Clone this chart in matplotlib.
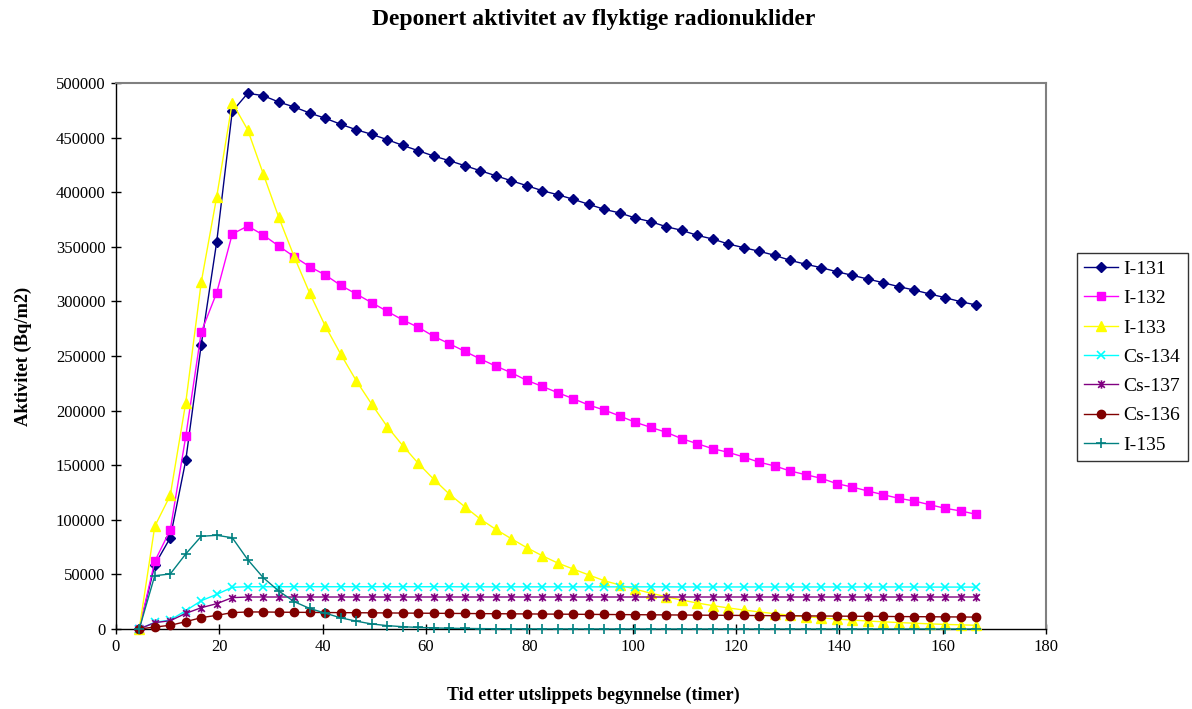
import matplotlib
matplotlib.use("Agg")
import matplotlib.pyplot as plt
from matplotlib.path import Path

# Sampling times (hours after release start)
hours = [4.5, 7.5, 10.5, 13.5, 16.5, 19.5, 22.5, 25.5, 28.5, 31.5, 34.5,
         37.5, 40.5, 43.5, 46.5, 49.5, 52.5, 55.5, 58.5, 61.5, 64.5, 67.5,
         70.5, 73.5, 76.5, 79.5, 82.5, 85.5, 88.5, 91.5, 94.5, 97.5, 100.5,
         103.5, 106.5, 109.5, 112.5, 115.5, 118.5, 121.5, 124.5, 127.5, 130.5,
         133.5, 136.5, 139.5, 142.5, 145.5, 148.5, 151.5, 154.5, 157.5, 160.5,
         163.5, 166.5]

# Deposited activity, Bq/m2
i131 = [0, 58700, 83500, 154400, 260500, 354800, 474000, 490600, 488400,
        482600, 478000, 472500, 467700, 462200, 457200, 453000, 448100,
        442900, 438000, 433100, 428900, 424300, 419700, 415100, 410500,
        406000, 401400, 397700, 393500, 388900, 384300, 381000, 376400,
        373000, 368400, 365100, 360500, 357100, 352600, 349200, 345900,
        342200, 337600, 334000, 330900, 327200, 323900, 320500, 317100,
        313500, 310400, 306800, 303400, 299700, 296700]

i132 = [0, 62000, 90700, 176300, 271900, 308100, 361700, 369000, 360800,
        350700, 340900, 331800, 324200, 314700, 306800, 298800, 290900,
        283000, 276300, 268000, 261300, 254300, 247300, 240800, 234700,
        227700, 222200, 216400, 210900, 205100, 200500, 195100, 189300,
        184700, 180100, 174300, 169700, 165100, 161800, 157500, 152700,
        149300, 144700, 141300, 138000, 133100, 130000, 126400, 123000,
        119700, 117200, 113800, 110500, 108100, 105000]

i133 = [0, 94000, 122400, 207300, 317600, 396000, 482100, 457000, 416800,
        377000, 340800, 307400, 277500, 251600, 227400, 205800, 185300,
        167900, 151700, 137100, 123600, 112000, 100700, 91300, 82700,
        74500, 67100, 60400, 54900, 49500, 44200, 40300, 36400, 32800,
        29500, 26500, 23800, 21400, 19300, 17400, 15600, 14000, 12600,
        11300, 10200, 9100, 8200, 7300, 6600, 5900, 5300, 4700, 4200,
        3800, 3400]

cs134 = [0, 6100, 8200, 16800, 25900, 31700, 38200, 38700, 38700, 38700,
         38700, 38700, 38700, 38700, 38700, 38700, 38700, 38700, 38700,
         38700, 38700, 38600, 38600, 38600, 38600, 38600, 38600, 38600,
         38600, 38600, 38600, 38600, 38600, 38600, 38600, 38500, 38500,
         38500, 38500, 38500, 38500, 38500, 38500, 38500, 38500, 38500,
         38500, 38500, 38500, 38500, 38500, 38400, 38400, 38400, 38400]

cs137 = [0, 5800, 7600, 14300, 19500, 23200, 28700, 29300, 29300, 29300,
         29300, 29300, 29300, 29300, 29300, 29300, 29300, 29300, 29300,
         29300, 29300, 29300, 29300, 29300, 29300, 29300, 29300, 29300,
         29300, 29300, 29300, 29300, 29300, 29300, 29300, 29300, 29300,
         29300, 29300, 29300, 29300, 29300, 29300, 29300, 29300, 29300,
         29300, 29300, 29300, 29300, 29300, 29300, 29300, 29300, 29300]

cs136 = [0, 1800, 3400, 6700, 10400, 12500, 15000, 15600, 15600, 15400,
         15300, 15200, 15100, 15000, 14900, 14800, 14700, 14600, 14500,
         14400, 14300, 14200, 14100, 14000, 13900, 13800, 13700, 13600,
         13500, 13400, 13300, 13200, 13100, 13000, 12900, 12800, 12700,
         12600, 12500, 12400, 12300, 12200, 12100, 12000, 11900, 11800,
         11700, 11600, 11500, 11400, 11300, 11200, 11100, 11000, 10900]

i135 = [0, 48800, 50400, 68700, 84900, 85800, 83600, 63500, 47000, 34800,
        25000, 18800, 14500, 10200, 7200, 4600, 3100, 2100, 1400, 1000,
        700, 500, 350, 250, 170, 120, 80, 60, 40, 30, 20, 15, 10, 0, 0,
        0, 0, 0, 0, 0, 0, 0, 0, 0, 0, 0, 0, 0, 0, 0, 0, 0, 0, 0, 0]

x_ticks = [0, 20, 40, 60, 80, 100, 120, 140, 160, 180]
y_ticks = [0, 50000, 100000, 150000, 200000, 250000, 300000, 350000,
           400000, 450000, 500000]

# Asterisk marker: an "x" with a vertical bar through it
star = Path([(-1, -1), (1, 1), (-1, 1), (1, -1), (0, -1.25), (0, 1.25)],
            [Path.MOVETO, Path.LINETO, Path.MOVETO, Path.LINETO,
             Path.MOVETO, Path.LINETO])

series = [
    ("I-131", i131, "#000080", "D", 5.0, True),
    ("I-132", i132, "#FF00FF", "s", 6.0, True),
    ("I-133", i133, "#FFFF00", "^", 7.0, True),
    ("Cs-134", cs134, "#00FFFF", "x", 6.0, False),
    ("Cs-137", cs137, "#800080", star, 6.0, False),
    ("Cs-136", cs136, "#800000", "o", 6.0, True),
    ("I-135", i135, "#008080", "+", 7.0, False),
]

plt.rcParams["font.family"] = ["Liberation Serif", "DejaVu Serif"]

fig = plt.figure(figsize=(11.92, 7.09), dpi=100)
ax = fig.add_axes([116 / 1192, 80 / 709, 930 / 1192, 546 / 709])

handles = []
for i, (name, vals, col, mk, ms, filled) in enumerate(series):
    kw = dict(color=col, lw=1.0, marker=mk, markersize=ms,
              markeredgecolor=col, zorder=2 + i, label=name, clip_on=False)
    if filled:
        kw["markerfacecolor"] = col
    else:
        kw["markeredgewidth"] = 1.2
    h, = ax.plot(hours, vals, **kw)
    handles.append(h)

ax.set_xlim(0, 180)
ax.set_ylim(0, 500000)
ax.set_xticks(x_ticks)
ax.set_yticks(y_ticks)
ax.set_xticklabels([str(t) for t in x_ticks])
ax.set_yticklabels([str(t) for t in y_ticks])
ax.tick_params(axis="both", direction="inout", length=7, width=1.0,
               labelsize=12, pad=4, colors="black")

for side in ("left", "bottom"):
    ax.spines[side].set_color("black")
    ax.spines[side].set_linewidth(1.0)
for side in ("top", "right"):
    ax.spines[side].set_color("#808080")
    ax.spines[side].set_linewidth(1.5)

fig.text(593 / 1192, 1 - 695 / 709, "Tid etter utslippets begynnelse (timer)",
         ha="center", va="center", fontsize=13, fontweight="bold")
ax.set_ylabel("Aktivitet (Bq/m2)", fontsize=13.3, fontweight="bold",
              labelpad=17)
fig.text(594 / 1192, 1 - 20 / 709, "Deponert aktivitet av flyktige radionuklider",
         ha="center", va="center", fontsize=17, fontweight="bold")

leg = fig.legend(handles=handles, loc="center left",
                 bbox_to_anchor=(1077 / 1192, 1 - 357 / 709),
                 borderaxespad=0.0,
                 fontsize=14, frameon=True, fancybox=False,
                 edgecolor="black", borderpad=0.38, labelspacing=0.6,
                 handlelength=1.75, handletextpad=0.26)
leg.get_frame().set_linewidth(1.0)

fig.savefig("out.png", dpi=100, facecolor="white")
